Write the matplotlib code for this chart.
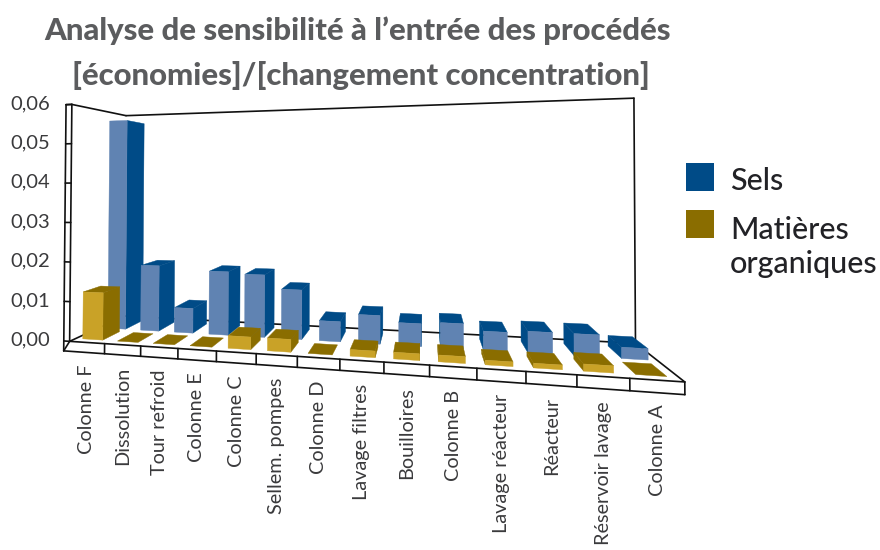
#!/usr/bin/env python3

import numpy as np
import matplotlib.pyplot as plt
plt.switch_backend('agg')

categories = ['Colonne F', 'Dissolution', 'Tour refroid', 'Colonne E', 'Colonne C',
              'Sellem. pompes', 'Colonne D', 'Lavage filtres', 'Bouilloires', 'Colonne B',
              'Lavage réacteur', 'Réacteur', 'Réservoir lavage', 'Colonne A']
sels = [0.057, 0.0175, 0.0065, 0.0165, 0.016, 0.0125, 0.005,
        0.007, 0.0055, 0.006, 0.0045, 0.005, 0.005, 0.0025]
organiques = [0.012, 0, 0, 0, 0.003, 0.003, 0,
              0.0015, 0.0015, 0.0015, 0.001, 0.001, 0.0015, 0]
y_ticks = [0, 0.01, 0.02, 0.03, 0.04, 0.05, 0.06]
y_labels = ['0,00', '0,01', '0,02', '0,03', '0,04', '0,05', '0,06']

BLUE_F, BLUE_D = '#6083b2', '#004b87'
GOLD_F, GOLD_D = '#c9a227', '#8a6d00'
INK = '#111111'
TEXT = '#3a3a3c'
FONT = 'Lato'

n = len(categories)
ymax = y_ticks[-1]

# camera: (category, depth, value) -> pixels, fitted on the corners of the box
calib = [((0, 0, 0), (69, 342)), ((n, 0, 0), (684, 382)), ((n, 1, 0), (636, 343)),
         ((0, 1, 0), (125, 315)), ((0, 0, ymax), (73, 103)), ((0, 1, ymax), (125, 117)),
         ((n, 1, ymax), (634, 98)), ((n / 2, 0, 0), (340, 360))]
A, b = [], []
for (u, v, w), (px, py) in calib:
    X = [u / n, v, w / ymax, 1]
    A.append(X + [0, 0, 0, 0] + [-px * c for c in X[:3]])
    A.append([0, 0, 0, 0] + X + [-py * c for c in X[:3]])
    b += [px, py]
m = np.linalg.lstsq(np.array(A, float), np.array(b, float), rcond=None)[0]
P = np.append(m, 1).reshape(3, 4)


def proj(u, v, w):
    h = P @ np.array([u / n, v, w / ymax, 1])
    return h[0] / h[2], h[1] / h[2]


def line(ax, a, b, lw=1.2):
    p, q = proj(*a), proj(*b)
    ax.plot([p[0], q[0]], [p[1], q[1]], color=INK, lw=lw, solid_capstyle='round', zorder=1)


def box(ax, u0, u1, v0, v1, val, front, dark):
    c = proj
    if c(u0, v1, val)[1] < c(u0, v0, val)[1]:
        ax.fill(*zip(c(u0, v0, val), c(u1, v0, val), c(u1, v1, val), c(u0, v1, val)),
                color=dark, lw=0.3, zorder=2)
    if val > 0:
        if c(u1, v1, 0)[0] > c(u1, v0, 0)[0]:
            ax.fill(*zip(c(u1, v0, 0), c(u1, v1, 0), c(u1, v1, val), c(u1, v0, val)),
                    color=dark, lw=0.3, zorder=2)
        if c(u0, v1, 0)[0] < c(u0, v0, 0)[0]:
            ax.fill(*zip(c(u0, v0, 0), c(u0, v1, 0), c(u0, v1, val), c(u0, v0, val)),
                    color=dark, lw=0.3, zorder=2)
        ax.fill(*zip(c(u0, v0, 0), c(u1, v0, 0), c(u1, v0, val), c(u0, v0, val)),
                color=front, lw=0.3, zorder=2)


fig = plt.figure(figsize=(8.8, 5.5), dpi=100)
ax = fig.add_axes([0, 0, 1, 1])
ax.set_xlim(0, 880)
ax.set_ylim(550, 0)
ax.axis('off')

# walls and floor
line(ax, (0, 0, ymax), (0, 1, ymax))
line(ax, (0, 1, ymax), (n, 1, ymax))
line(ax, (n, 1, ymax), (n, 1, 0))
line(ax, (0, 0, 0), (0, 1, 0))
line(ax, (0, 1, 0), (n, 1, 0))
line(ax, (n, 1, 0), (n, 0, 0))
line(ax, (0, 0, 0), (n, 0, 0))
line(ax, (0, 0, 0), (0, 0, ymax))
sx, sz = -0.17, -0.0025
line(ax, (sx, 0, sz), (sx, 0, ymax))
line(ax, (sx, 0, ymax), (0, 0, ymax))
line(ax, (sx, 0, sz), (n, 0, sz))
line(ax, (sx, 0, sz), (0, 0, 0))
for i in range(1, n + 1):
    line(ax, (i, 0, 0), (i, 0, sz))
for t, lab in zip(y_ticks, y_labels):
    line(ax, (sx, 0, t), (0, 0, t))
    x, y = proj(0, 0, t)
    ax.text(50, y - 1, lab, ha='right', va='center', fontsize=14.5, color=TEXT, family=FONT)

# bars, back row then front row
for i in range(n):
    box(ax, i + 0.27, i + 0.81, 0.5, 0.86, sels[i], BLUE_F, BLUE_D)
for i in range(n):
    box(ax, i + 0.2, i + 0.78, 0.1, 0.4, organiques[i], GOLD_F, GOLD_D)

for i, lab in enumerate(categories):
    x, y = proj(i + 0.5, 0, sz)
    ax.text(x, y + 12, lab, rotation=90, ha='center', va='top', fontsize=14.3,
            color=TEXT, family=FONT)

ax.text(358, 31, 'Analyse de sensibilité à l’entrée des procédés', ha='center', va='center',
        fontsize=22.4, fontweight='black', color='#5b5c5e', family=FONT)
ax.text(361, 75, '[économies]/[changement concentration]', ha='center', va='center',
        fontsize=22.4, fontweight='black', color='#5b5c5e', family=FONT)

# legend
ax.add_patch(plt.Rectangle((686, 163), 28, 28, color=BLUE_D, lw=0))
ax.add_patch(plt.Rectangle((686, 210), 28, 28, color=GOLD_D, lw=0))
ax.text(730, 181.5, 'Sels', va='center', fontsize=22, color='#222226', family=FONT, fontweight='medium')
ax.text(730, 230, 'Matières', va='center', fontsize=22, color='#222226', family=FONT, fontweight='medium')
ax.text(730, 263.5, 'organiques', va='center', fontsize=22, color='#222226', family=FONT, fontweight='medium')

fig.savefig('out.png', dpi=100)
